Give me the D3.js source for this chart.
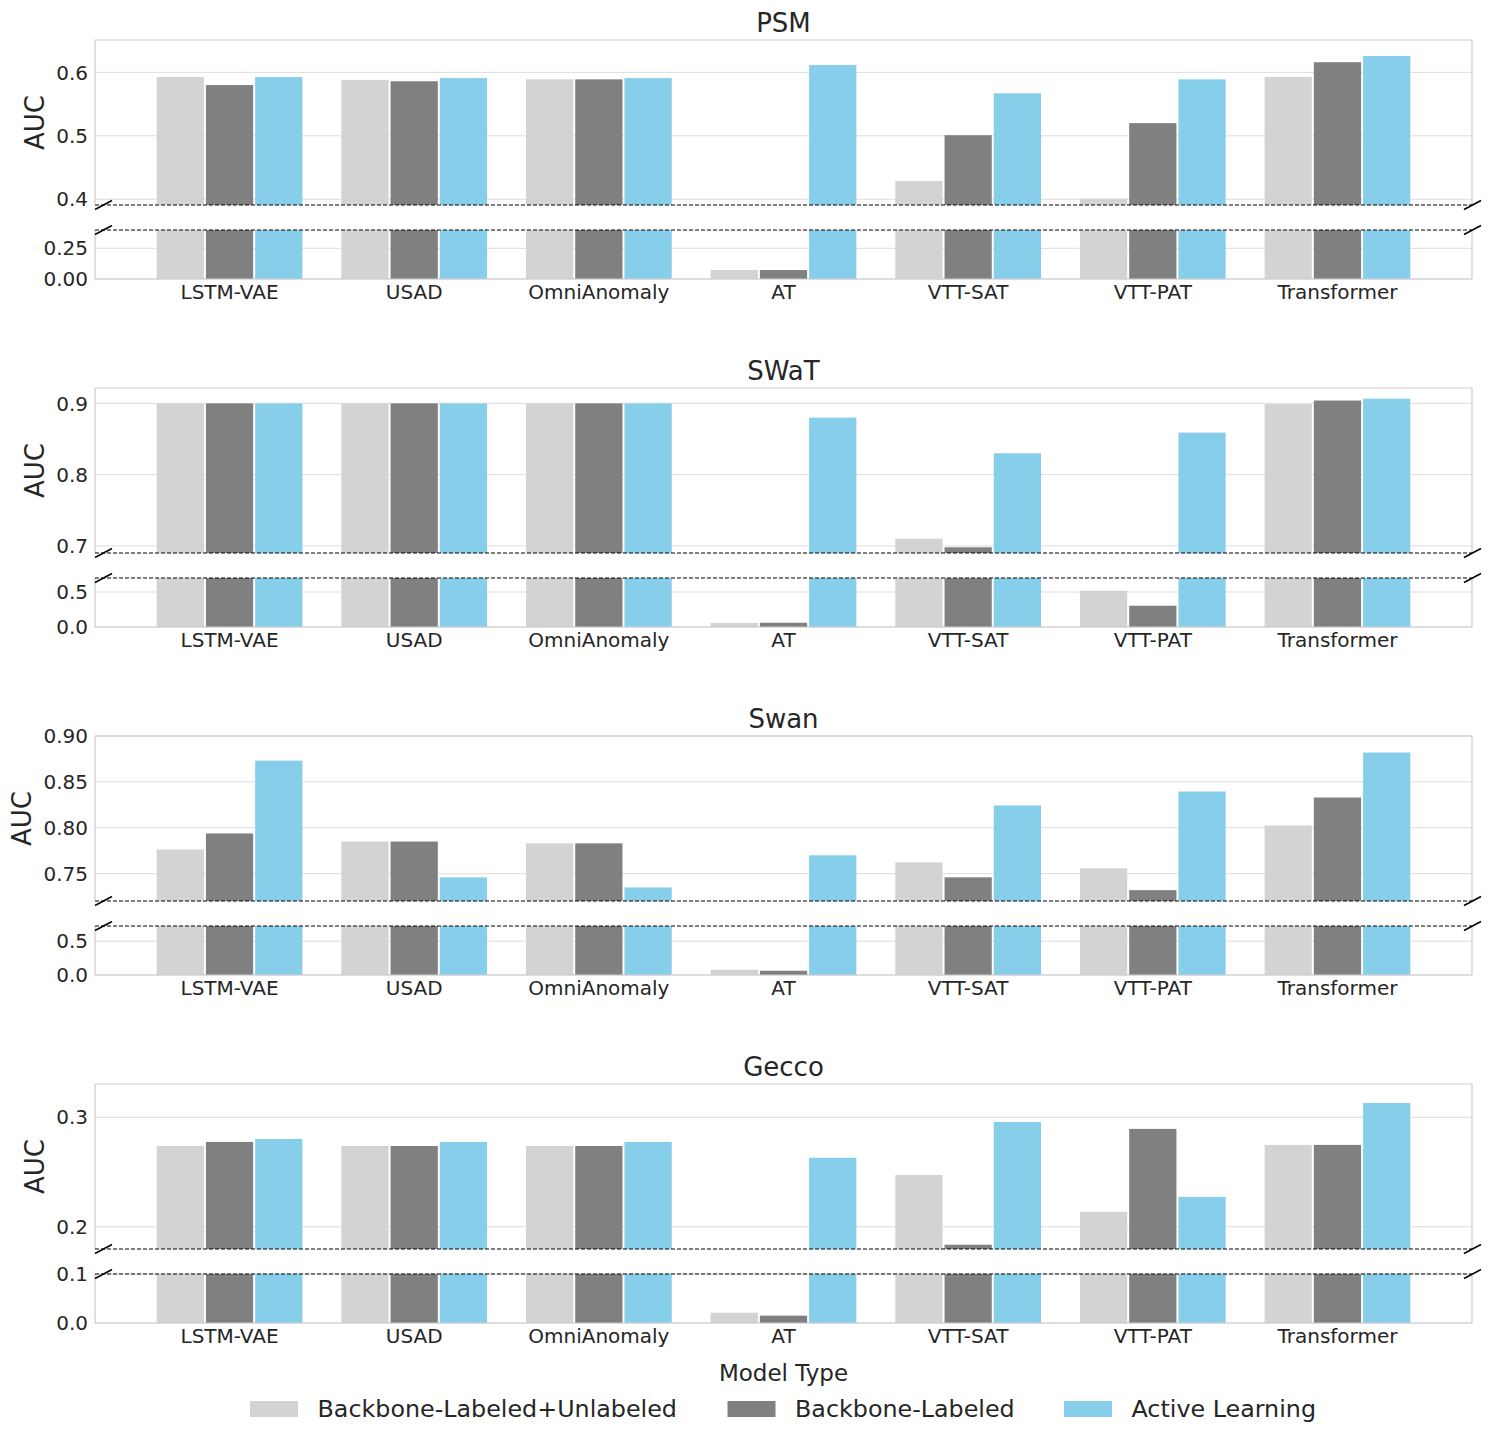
<!DOCTYPE html>
<html>
<head>
<meta charset="utf-8">
<script src="https://cdn.jsdelivr.net/npm/d3@7"></script>
<style>
  html, body { margin: 0; padding: 0; background: #fff; }
  svg { display: block; font-family: "DejaVu Sans", sans-serif; }
</style>
</head>
<body>
<svg id="chart" width="1490" height="1442"></svg>
<script>
// ---------------- data ----------------
const models = ["LSTM-VAE", "USAD", "OmniAnomaly", "AT", "VTT-SAT", "VTT-PAT", "Transformer"];
const seriesNames = ["Backbone-Labeled+Unlabeled", "Backbone-Labeled", "Active Learning"];
const seriesColors = ["#d3d3d3", "#808080", "#87ceeb"];
const datasets = ["PSM", "SWaT", "Swan", "Gecco"];

const psmLabeledUnlabeled = [0.5926, 0.588, 0.589, 0.074, 0.429, 0.401, 0.5926];
const psmLabeled          = [0.580, 0.586, 0.589, 0.073, 0.501, 0.520, 0.616];
const psmActive           = [0.5926, 0.591, 0.591, 0.6115, 0.567, 0.589, 0.6257];

const swatLabeledUnlabeled = [0.900, 0.900, 0.900, 0.057, 0.710, 0.519, 0.899];
const swatLabeled          = [0.900, 0.900, 0.900, 0.061, 0.698, 0.304, 0.904];
const swatActive           = [0.900, 0.900, 0.900, 0.880, 0.830, 0.859, 0.9066];

const swanLabeledUnlabeled = [0.7764, 0.785, 0.783, 0.078, 0.7623, 0.7558, 0.8025];
const swanLabeled          = [0.7938, 0.785, 0.783, 0.063, 0.746, 0.732, 0.833];
const swanActive           = [0.8732, 0.746, 0.735, 0.770, 0.8243, 0.8395, 0.882];

const geccoLabeledUnlabeled = [0.2738, 0.2738, 0.2738, 0.021, 0.2474, 0.2137, 0.2748];
const geccoLabeled          = [0.2775, 0.2738, 0.2738, 0.015, 0.1836, 0.2894, 0.2748];
const geccoActive           = [0.2802, 0.2775, 0.2775, 0.263, 0.2957, 0.2273, 0.313];

// broken-axis ranges (upper part / lower part)
const upperDomains = [[0.391, 0.651], [0.690, 0.9216], [0.7202, 0.900], [0.1797, 0.3304]];
const lowerDomains = [[0, 0.399], [0, 0.700], [0, 0.725], [0, 0.100]];
const upperTicks = [[0.4, 0.5, 0.6], [0.7, 0.8, 0.9], [0.75, 0.80, 0.85, 0.90], [0.2, 0.3]];
const lowerTicks = [[0.00, 0.25], [0.0, 0.5], [0.0, 0.5], [0.0, 0.1]];
const upperTickFormats = [".1f", ".1f", ".2f", ".1f"];
const lowerTickFormats = [".2f", ".1f", ".1f", ".1f"];

const panelSeries = [
  [psmLabeledUnlabeled, psmLabeled, psmActive],
  [swatLabeledUnlabeled, swatLabeled, swatActive],
  [swanLabeledUnlabeled, swanLabeled, swanActive],
  [geccoLabeledUnlabeled, geccoLabeled, geccoActive]
];

// ---------------- layout ----------------
const svg = d3.select("#chart");
const textColor = "#262626";
const left = 95, right = 1472;
const panelStep = 348;
const upperTop = 40, upperBottom = 205, lowerTop = 230, lowerBottom = 279;

const x = d3.scaleLinear().domain([-0.7286, 6.7286]).range([left, right]);
const unit = x(1) - x(0);
const slot = unit * 0.8 / 3;
const barW = slot - 2;

const defs = svg.append("defs");

datasets.forEach((name, p) => {
  const off = p * panelStep;
  const g = svg.append("g");
  const series = panelSeries[p];

  const parts = [
    {key: "u", y0: upperTop + off, y1: upperBottom + off, domain: upperDomains[p], ticks: upperTicks[p], fmt: upperTickFormats[p]},
    {key: "l", y0: lowerTop + off, y1: lowerBottom + off, domain: lowerDomains[p], ticks: lowerTicks[p], fmt: lowerTickFormats[p]}
  ];

  let upperTickLeft = Infinity;

  parts.forEach(part => {
    const y = d3.scaleLinear().domain(part.domain).range([part.y1, part.y0]);
    const clipId = "clip-" + p + "-" + part.key;
    defs.append("clipPath").attr("id", clipId)
      .append("rect").attr("x", left).attr("y", part.y0)
      .attr("width", right - left).attr("height", part.y1 - part.y0);

    // grid
    g.append("g").selectAll("line").data(part.ticks).join("line")
      .attr("x1", left).attr("x2", right)
      .attr("y1", d => y(d)).attr("y2", d => y(d))
      .attr("stroke", "#dddddd").attr("stroke-width", 1);

    // bars
    const bars = g.append("g").attr("clip-path", "url(#" + clipId + ")");
    series.forEach((vals, s) => {
      bars.append("g").selectAll("rect").data(vals).join("rect")
        .attr("x", (d, i) => x(i) + (s - 1) * slot - barW / 2)
        .attr("width", barW)
        .attr("y", d => y(d))
        .attr("height", d => Math.max(0, y(part.domain[0]) - y(d)))
        .attr("fill", seriesColors[s]);
    });

    // spines
    const sp = g.append("g").attr("stroke", "#cccccc").attr("stroke-width", 1.2);
    sp.append("line").attr("x1", left).attr("x2", left).attr("y1", part.y0).attr("y2", part.y1);
    sp.append("line").attr("x1", right).attr("x2", right).attr("y1", part.y0).attr("y2", part.y1);
    if (part.key === "u") {
      sp.append("line").attr("x1", left).attr("x2", right).attr("y1", part.y0).attr("y2", part.y0);
    } else {
      sp.append("line").attr("x1", left).attr("x2", right).attr("y1", part.y1).attr("y2", part.y1);
    }

    // dashed break line + diagonal marks
    const by = part.key === "u" ? part.y1 : part.y0;
    g.append("line").attr("x1", left).attr("x2", right).attr("y1", by).attr("y2", by)
      .attr("stroke", "#000").attr("stroke-width", 1.1).attr("stroke-dasharray", "4,2");
    [[left, left + 17], [right - 8, right + 9]].forEach(([a, b]) => {
      g.append("line").attr("x1", a).attr("x2", b).attr("y1", by + 4.5).attr("y2", by - 4.5)
        .attr("stroke", "#000").attr("stroke-width", 1.5);
    });

    // y tick labels
    const f = d3.format(part.fmt);
    g.append("g").selectAll("text").data(part.ticks).join("text")
      .attr("x", 88).attr("y", d => y(d)).attr("dy", "0.36em")
      .attr("text-anchor", "end").attr("font-size", 20).attr("fill", textColor)
      .text(d => f(d))
      .each(function () {
        if (part.key === "u") {
          const w = this.getComputedTextLength();
          upperTickLeft = Math.min(upperTickLeft, 88 - w);
        }
      });
  });

  // x tick labels
  g.append("g").selectAll("text").data(models).join("text")
    .attr("x", (d, i) => x(i)).attr("y", lowerBottom + off + 20)
    .attr("text-anchor", "middle").attr("font-size", 20).attr("fill", textColor)
    .text(d => d);

  // title
  g.append("text").attr("x", (left + right) / 2).attr("y", 32 + off)
    .attr("text-anchor", "middle").attr("font-size", 26).attr("fill", textColor)
    .text(name);

  // y label
  const lx = upperTickLeft - 21;
  const ly = (upperTop + upperBottom) / 2 + off;
  g.append("text").attr("transform", `translate(${lx},${ly}) rotate(-90)`)
    .attr("text-anchor", "middle").attr("dominant-baseline", "central")
    .attr("font-size", 26).attr("fill", textColor).text("AUC");
});

// ---------------- legend ----------------
const legend = svg.append("g");
legend.append("text").attr("x", 783.5).attr("y", 1381)
  .attr("text-anchor", "middle").attr("font-size", 23).attr("fill", textColor)
  .text("Model Type");
const legendX = [250, 727.5, 1064];
seriesNames.forEach((s, i) => {
  legend.append("rect").attr("x", legendX[i]).attr("y", 1401).attr("width", 48).attr("height", 16)
    .attr("fill", seriesColors[i]);
  legend.append("text").attr("x", legendX[i] + 67.5).attr("y", 1417)
    .attr("font-size", 23.8).attr("fill", textColor).text(s);
});
</script>
</body>
</html>
